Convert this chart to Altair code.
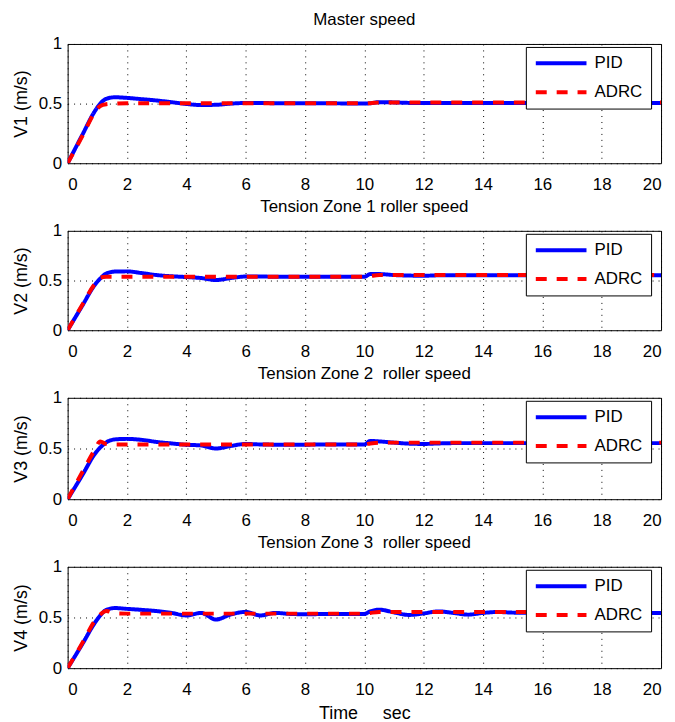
import altair as alt
import pandas as pd

# time grid (s)
T = [0, 0.5, 0.9, 1.1, 1.3, 1.6, 2.0, 2.5, 3.0, 3.5, 4.0, 4.5, 5.0, 5.5, 6.0, 6.5,
     7.0, 7.5, 8.0, 9.0, 10.0, 10.2, 10.5, 11.0, 11.5, 12.0, 12.5, 13.0, 13.5,
     14.0, 14.5, 15.0, 16.0, 17.0, 18.0, 19.0, 20.0]

V1_PID = [0, 0.24, 0.43, 0.50, 0.54, 0.553, 0.548, 0.537, 0.526, 0.512, 0.497, 0.488,
          0.490, 0.500, 0.505, 0.505, 0.503, 0.502, 0.502, 0.502, 0.500, 0.503, 0.512,
          0.510, 0.506, 0.505, 0.505, 0.505, 0.505, 0.505, 0.505, 0.505, 0.505, 0.505,
          0.505, 0.505, 0.505]
V1_ADRC = [0, 0.23, 0.42, 0.48, 0.495, 0.50, 0.502, 0.502, 0.502, 0.502, 0.502, 0.502,
           0.502, 0.502, 0.502, 0.502, 0.502, 0.502, 0.502, 0.502, 0.502, 0.503, 0.510,
           0.510, 0.510, 0.510, 0.510, 0.510, 0.510, 0.510, 0.510, 0.510, 0.510, 0.510,
           0.510, 0.510, 0.510]

V2_PID = [0, 0.25, 0.45, 0.52, 0.57, 0.59, 0.592, 0.575, 0.555, 0.543, 0.535, 0.525,
          0.505, 0.525, 0.540, 0.540, 0.538, 0.537, 0.537, 0.537, 0.537, 0.565, 0.565,
          0.555, 0.550, 0.548, 0.552, 0.552, 0.552, 0.552, 0.552, 0.552, 0.552, 0.552,
          0.552, 0.552, 0.552]
V2_ADRC = [0, 0.26, 0.46, 0.53, 0.537, 0.537, 0.537, 0.537, 0.537, 0.537, 0.537, 0.537,
           0.537, 0.537, 0.537, 0.537, 0.537, 0.537, 0.537, 0.537, 0.537, 0.545, 0.555,
           0.555, 0.555, 0.555, 0.555, 0.555, 0.555, 0.555, 0.555, 0.555, 0.555, 0.555,
           0.555, 0.555, 0.555]

V3_PID = [0, 0.24, 0.44, 0.51, 0.56, 0.59, 0.595, 0.585, 0.565, 0.550, 0.537, 0.530,
          0.500, 0.525, 0.545, 0.540, 0.538, 0.538, 0.538, 0.540, 0.540, 0.575, 0.570,
          0.558, 0.548, 0.545, 0.550, 0.553, 0.553, 0.553, 0.553, 0.553, 0.553, 0.553,
          0.553, 0.553, 0.553]
V3_ADRC = [0, 0.27, 0.48, 0.57, 0.545, 0.540, 0.540, 0.540, 0.540, 0.540, 0.540, 0.540,
           0.540, 0.540, 0.540, 0.540, 0.540, 0.540, 0.540, 0.540, 0.540, 0.550, 0.558,
           0.558, 0.558, 0.558, 0.558, 0.558, 0.558, 0.558, 0.558, 0.558, 0.558, 0.558,
           0.558, 0.558, 0.558]

V4_PID = [0, 0.24, 0.44, 0.52, 0.575, 0.593, 0.585, 0.575, 0.563, 0.545, 0.520, 0.545,
          0.480, 0.530, 0.555, 0.520, 0.545, 0.535, 0.532, 0.535, 0.535, 0.560, 0.577,
          0.550, 0.525, 0.540, 0.560, 0.545, 0.528, 0.545, 0.554, 0.548, 0.545, 0.545,
          0.545, 0.545, 0.545]
V4_ADRC = [0, 0.25, 0.46, 0.53, 0.565, 0.540, 0.538, 0.538, 0.538, 0.538, 0.538, 0.538,
           0.538, 0.538, 0.538, 0.538, 0.538, 0.538, 0.538, 0.538, 0.538, 0.545, 0.553,
           0.553, 0.553, 0.553, 0.553, 0.553, 0.553, 0.553, 0.553, 0.553, 0.553, 0.553,
           0.553, 0.553, 0.553]

TITLES = ["Master speed", "Tension Zone 1 roller speed",
          "Tension Zone 2\u00a0 roller speed", "Tension Zone 3\u00a0 roller speed"]
YLABELS = ["V1 (m/s)", "V2 (m/s)", "V3 (m/s)", "V4 (m/s)"]
SERIES = ["PID", "ADRC"]
X_TICKS = [0, 2, 4, 6, 8, 10, 12, 14, 16, 18, 20]
Y_TICKS = [0, 0.5, 1]

PANELS = [(V1_PID, V1_ADRC), (V2_PID, V2_ADRC), (V3_PID, V3_ADRC), (V4_PID, V4_ADRC)]
HEIGHTS = [120, 100, 102, 102]

FONT = "Liberation Sans"
W = 597


def panel(i):
    pid, adrc = PANELS[i]
    df = pd.DataFrame({
        "t": T * 2,
        "v": pid + adrc,
        "series": ["PID"] * len(T) + ["ADRC"] * len(T),
    })
    last = i == 3
    x = alt.X("t:Q", scale=alt.Scale(domain=[0, 20], nice=False),
              axis=alt.Axis(values=X_TICKS, title="Time\u00a0\u00a0\u00a0\u00a0 sec" if last else None,
                            format="d"))
    y = alt.Y("v:Q", scale=alt.Scale(domain=[0, 1], nice=False),
              axis=alt.Axis(values=Y_TICKS, title=YLABELS[i], format="~g"))
    color = alt.Color("series:N",
                      scale=alt.Scale(domain=SERIES, range=["#0000ff", "#ff0000"]),
                      legend=alt.Legend(title=None, orient="none", legendX=461, legendY=3,
                                        symbolType="stroke", symbolSize=2601,
                                        symbolStrokeWidth=4, labelFontSize=17, labelFont=FONT,
                                        labelOffset=6, rowPadding=11, padding=8,
                                        clipHeight=17,
                                        strokeColor="black", fillColor="white",
                                        labelColor="black"))
    dash = alt.StrokeDash("series:N",
                          scale=alt.Scale(domain=SERIES, range=[[1, 0], [11, 10]]),
                          legend=None)
    base = alt.Chart(df).encode(x=x, y=y, color=color, strokeDash=dash)
    l1 = base.transform_filter(alt.datum.series == "PID").mark_line(
        strokeWidth=4, interpolate="monotone", clip=True)
    l2 = base.transform_filter(alt.datum.series == "ADRC").mark_line(
        strokeWidth=4, interpolate="monotone", clip=True)
    return alt.layer(l1, l2).properties(
        width=W, height=HEIGHTS[i],
        title=alt.TitleParams(TITLES[i], fontSize=17, font=FONT, fontWeight="normal",
                              color="black", offset=6),
    )


chart = alt.vconcat(*[panel(i) for i in range(4)], spacing=4).resolve_scale(
    color="independent", strokeDash="independent"
).resolve_legend(color="independent", strokeDash="independent").properties(
    padding={"left": 3, "top": 0, "right": 5, "bottom": 0}
).configure_view(stroke="black", strokeWidth=1).configure_axis(
    labelFont=FONT, labelFontSize=17, labelColor="black",
    titleFont=FONT, titleFontSize=18, titleFontWeight="normal", titleColor="black",
    ticks=False, domain=False, labelPadding=6, titlePadding=8,
    grid=True, gridColor="black", gridDash=[1, 5], gridWidth=1, gridOpacity=1,
).configure_axisX(labelPadding=13, titlePadding=8)

chart.save("out.html", embed_options={"renderer": "svg", "actions": False})
